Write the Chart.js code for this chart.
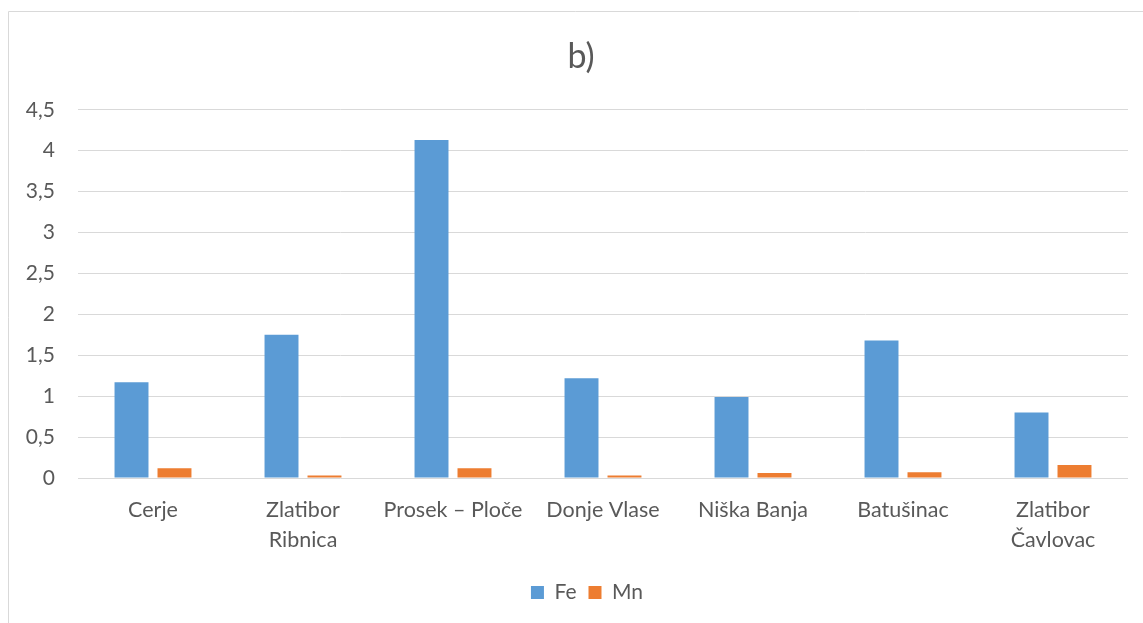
<!DOCTYPE html>
<html>
<head>
<meta charset="utf-8">
<script src="https://cdn.jsdelivr.net/npm/chart.js@4/dist/chart.umd.min.js"></script>
<style>
  html, body { margin: 0; padding: 0; background: #fff; }
  #wrap { position: relative; width: 1143px; height: 623px; }
</style>
</head>
<body>
<div id="wrap"><canvas id="c" width="1143" height="623"></canvas></div>
<script>
const categories = ['Cerje', ['Zlatibor', 'Ribnica'], 'Prosek – Ploče', 'Donje Vlase', 'Niška Banja', 'Batušinac', ['Zlatibor', 'Čavlovac']];
const feValues = [1.17, 1.75, 4.13, 1.22, 0.99, 1.68, 0.80];
const mnValues = [0.12, 0.03, 0.12, 0.03, 0.06, 0.07, 0.16];
const yTickLabels = ['0', '0,5', '1', '1,5', '2', '2,5', '3', '3,5', '4', '4,5'];
const titleText = 'b)';

const FONT = 'Lato, "Open Sans", sans-serif';
const TXT = '#595959';

const borderPlugin = {
  id: 'outerBorder',
  afterLayout(chart) {
    // the original chart frame extends past the right edge, so title and legend sit right of centre
    if (chart.titleBlock) { chart.titleBlock.left += 17; chart.titleBlock.right += 17; }
    if (chart.legend) { chart.legend.left += 23; chart.legend.right += 23; }
  },
  beforeDraw(chart) {
    const ctx = chart.ctx;
    ctx.save();
    ctx.strokeStyle = '#d9d9d9';
    ctx.lineWidth = 1;
    ctx.beginPath();
    ctx.moveTo(8.5, 623);
    ctx.lineTo(8.5, 11.5);
    ctx.lineTo(1143, 11.5);
    ctx.stroke();
    ctx.restore();
  }
};

new Chart(document.getElementById('c'), {
  type: 'bar',
  data: {
    labels: categories,
    datasets: [
      { label: 'Fe', data: feValues, backgroundColor: '#5B9BD5', borderWidth: 0 },
      { label: 'Mn', data: mnValues, backgroundColor: '#ED7D31', borderWidth: 0 }
    ]
  },
  options: {
    responsive: false,
    animation: false,
    devicePixelRatio: 1,
    layout: { padding: { left: 0, right: 15, top: 0, bottom: 10 } },
    datasets: { bar: { categoryPercentage: 0.573, barPercentage: 0.79 } },
    plugins: {
      title: {
        display: true, text: titleText, color: TXT,
        font: { family: FONT, size: 34, weight: 'normal', lineHeight: 1.2 },
        padding: { top: 37, bottom: 32 }
      },
      legend: {
        position: 'bottom',
        labels: {
          color: TXT, boxWidth: 13, boxHeight: 13, padding: 12,
          font: { family: FONT, size: 21 }
        }
      },
      tooltip: { enabled: false }
    },
    scales: {
      x: {
        grid: { display: false, drawTicks: false },
        border: { display: false },
        ticks: {
          color: TXT, font: { family: FONT, size: 21.5, lineHeight: 1.4 },
          padding: 17, maxRotation: 0, autoSkip: false
        },
        afterFit(s) { s.height = 92; }
      },
      y: {
        min: 0, max: 4.5,
        border: { display: false },
        grid: { color: '#d9d9d9', lineWidth: 1, drawTicks: false },
        ticks: {
          stepSize: 0.5, color: TXT, padding: 23,
          font: { family: FONT, size: 21 },
          callback: (v, i) => yTickLabels[i]
        },
        afterFit(s) { s.width = 78; }
      }
    }
  },
  plugins: [borderPlugin]
});
</script>
</body>
</html>
